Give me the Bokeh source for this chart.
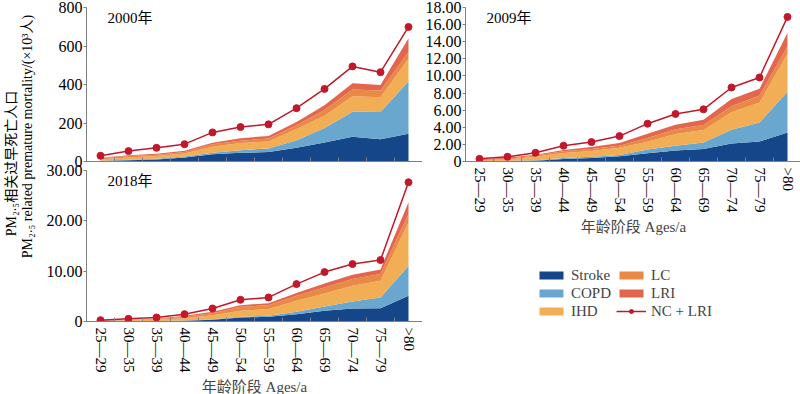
from math import pi
from bokeh.plotting import figure
from bokeh.layouts import row, column
from bokeh.models import (Range1d, FixedTicker, ColumnDataSource, Label, Legend, LegendItem,
                          PrintfTickFormatter)
from bokeh.embed import file_html
from bokeh.resources import INLINE

ages = ["25—29", "30—35", "35—39", "40—44", "45—49", "50—54", "55—59",
        "60—64", "65—69", "70—74", "75—79", ">80"]
causes = ["Stroke", "COPD", "IHD", "LC", "LRI"]

# 2000 (x10^3)
stroke_2000 = [3, 7, 10, 21, 38, 45, 49, 71, 99, 129, 115, 144]
copd_2000 = [0.5, 2, 4, 5, 7, 14, 19, 40, 75, 130, 142, 273]
ihd_2000 = [8.5, 12, 14, 16, 32, 37, 36, 58, 64, 80, 77, 117]
lc_2000 = [5, 7, 7, 8, 13, 12, 16, 19, 30, 35, 35, 35]
lri_2000 = [3, 4, 5, 6, 8, 13, 13, 17, 24, 33, 29, 71]
nclri_2000 = [30, 54, 71, 90, 151, 179, 193, 277, 377, 494, 464, 699]

# 2009
stroke_2009 = [0.02, 0.04, 0.1, 0.3, 0.42, 0.6, 0.95, 1.3, 1.45, 2.1, 2.33, 3.4]
copd_2009 = [0.02, 0.04, 0.05, 0.1, 0.13, 0.15, 0.45, 0.54, 0.78, 1.6, 2.22, 4.75]
ihd_2009 = [0.08, 0.14, 0.4, 0.6, 0.67, 0.85, 0.9, 1.36, 1.45, 2.05, 2.35, 4.45]
lc_2009 = [0.06, 0.1, 0.15, 0.2, 0.23, 0.25, 0.45, 0.56, 0.58, 0.71, 0.8, 0.86]
lri_2009 = [0.08, 0.13, 0.1, 0.15, 0.25, 0.3, 0.5, 0.54, 0.63, 0.84, 0.8, 1.6]
nclri_2009 = [0.31, 0.55, 1.02, 1.84, 2.27, 2.97, 4.42, 5.56, 6.10, 8.65, 9.82, 16.9]

# 2018
stroke_2018 = [0.02, 0.03, 0.05, 0.13, 0.33, 0.8, 0.93, 1.46, 2.12, 2.59, 2.65, 5.11]
copd_2018 = [0.02, 0.04, 0.05, 0.07, 0.13, 0.13, 0.2, 0.46, 0.87, 1.39, 2.13, 5.97]
ihd_2018 = [0.05, 0.13, 0.23, 0.46, 0.8, 1.19, 1.33, 2.19, 2.58, 3.12, 3.32, 8.62]
lc_2018 = [0.02, 0.04, 0.12, 0.27, 0.4, 0.8, 0.79, 1.0, 1.2, 1.33, 1.32, 1.67]
lri_2018 = [0.03, 0.04, 0.1, 0.2, 0.26, 0.33, 0.4, 0.53, 0.79, 0.86, 0.93, 2.33]
nclri_2018 = [0.27, 0.53, 0.8, 1.46, 2.59, 4.31, 4.78, 7.43, 9.82, 11.41, 12.21, 27.67]

y_ticks_2000 = [0, 200, 400, 600, 800]
y_ticks_2009 = [0, 2, 4, 6, 8, 10, 12, 14, 16, 18]
y_ticks_2018 = [0, 10, 20, 30]

colors = ["#15468a", "#6aa7ce", "#f2ae55", "#e98946", "#e3664e"]
line_color = "#c2182b"
SERIF = "'Liberation Serif', 'Noto Sans CJK SC'"
AXIS_COLOR = "#808080"

xs = list(range(len(ages)))


def add_series(p, data, nclri):
    src = ColumnDataSource(dict(x=xs, nclri=nclri, **{c: v for c, v in zip(causes, data)}))
    areas = p.varea_stack(stackers=causes, x="x", color=colors, source=src)
    ln = p.line("x", "nclri", source=src, color=line_color, line_width=1.5)
    sc = p.scatter("x", "nclri", source=src, size=7, color=line_color)
    return areas, ln, sc


def make_panel(year, data, nclri, ymax, yticks, fmt, show_labels, fw, fh, mb):
    p = figure(output_backend="svg", toolbar_location=None,
               frame_width=fw, frame_height=fh,
               x_range=Range1d(-0.5, len(ages) - 0.5), y_range=Range1d(0, ymax),
               min_border_left=mb[0], min_border_right=mb[1],
               min_border_top=mb[2], min_border_bottom=mb[3])
    p.outline_line_color = None
    p.grid.visible = False
    add_series(p, data, nclri)

    xa = p.xaxis[0]
    bounds = [i - 0.5 for i in range(len(ages) + 1)]
    xa.major_tick_in = 0
    xa.major_tick_out = 0
    xa.minor_tick_in = 4
    xa.minor_tick_out = 0
    xa.axis_line_color = AXIS_COLOR
    xa.minor_tick_line_color = AXIS_COLOR
    xa.major_label_orientation = "vertical"
    xa.major_label_text_font = SERIF
    xa.major_label_text_color = "black"
    if show_labels:
        xa.ticker = FixedTicker(ticks=xs, minor_ticks=bounds)
        xa.major_label_overrides = {i: a for i, a in enumerate(ages)}
        xa.major_label_text_font_size = "15px"
        xa.major_label_standoff = 6
        xa.axis_label = "年龄阶段 Ages/a"
        xa.axis_label_text_font = SERIF
        xa.axis_label_text_font_size = "15px"
        xa.axis_label_text_font_style = "normal"
        xa.axis_label_standoff = 3
    else:
        xa.ticker = FixedTicker(ticks=[], minor_ticks=bounds)
        xa.major_label_standoff = 0

    ya = p.yaxis[0]
    ya.ticker = FixedTicker(ticks=yticks, minor_ticks=[])
    ya.formatter = PrintfTickFormatter(format=fmt)
    ya.major_label_overrides = {0: "0"}
    ya.major_tick_in = 0
    ya.major_tick_out = 3
    ya.axis_line_color = AXIS_COLOR
    ya.major_tick_line_color = AXIS_COLOR
    ya.major_label_text_font = SERIF
    ya.major_label_text_font_size = "16px"
    ya.major_label_text_color = "black"
    ya.major_label_standoff = 1

    p.add_layout(Label(x=21, y=fh - 10, x_units="screen", y_units="screen",
                       text=year, text_font=SERIF, text_font_size="15px",
                       text_baseline="middle", text_color="black"))
    return p


p1 = make_panel("2000年", [stroke_2000, copd_2000, ihd_2000, lc_2000, lri_2000],
                nclri_2000, 800, y_ticks_2000, "%d", False, 336, 154, (46, 0, 7, 12))
p2 = make_panel("2009年", [stroke_2009, copd_2009, ihd_2009, lc_2009, lri_2009],
                nclri_2009, 18, y_ticks_2009, "%.2f", True, 336, 154, (41, 1, 7, 80))
p3 = make_panel("2018年", [stroke_2018, copd_2018, ihd_2018, lc_2018, lri_2018],
                nclri_2018, 30, y_ticks_2018, "%.2f", True, 336, 151, (46, 0, 13, 73))
# let the 2018 panel overlap the bottom border of the 2000 panel (transparent canvas)
p3.background_fill_alpha = 0
p3.border_fill_alpha = 0
p3.margin = (-16, 0, 0, 0)

# y-axis title figure (no axes at all)
ylab = figure(output_backend="svg", toolbar_location=None, width=40, height=394,
              min_border=0, x_axis_location=None, y_axis_location=None,
              x_range=Range1d(0, 40), y_range=Range1d(0, 394))
ylab.grid.visible = False
ylab.outline_line_color = None
ylab.add_layout(Label(x=11, y=394 - 163, x_units="screen", y_units="screen",
                      text="PM₂.₅相关过早死亡人口", angle=pi / 2, text_align="center",
                      text_baseline="middle", text_font=SERIF, text_font_size="14px",
                      text_color="black"))
ylab.add_layout(Label(x=27, y=394 - 136, x_units="screen", y_units="screen",
                      text="PM₂.₅ related premature mortality/(×10³人)", angle=pi / 2,
                      text_align="center", text_baseline="middle", text_font=SERIF,
                      text_font_size="14px", text_color="black"))

# legend figure: series drawn outside its visible range, only the legend shows
leg = figure(output_backend="svg", toolbar_location=None, width=378, height=153,
             min_border=0, x_axis_location=None, y_axis_location=None,
             x_range=Range1d(100, 101), y_range=Range1d(100, 101))
leg.grid.visible = False
leg.outline_line_color = None
areas_l, ln_l, sc_l = add_series(leg, [stroke_2009, copd_2009, ihd_2009, lc_2009, lri_2009],
                                 nclri_2009)
items = [LegendItem(label=c, renderers=[r]) for c, r in zip(causes, areas_l)]
items.append(LegendItem(label="NC + LRI", renderers=[ln_l, sc_l]))
legend = Legend(items=items, location=(71, 74), nrows=3,
                glyph_width=30, glyph_height=10, label_standoff=5, spacing=0,
                padding=0, margin=0, border_line_alpha=0, background_fill_alpha=0,
                label_text_font=SERIF, label_text_font_size="15px", label_height=18,
                label_width=45)
leg.add_layout(legend)

root = row(ylab, column(p1, p3), column(p2, leg))

html = file_html(root, INLINE, title="chart")
open("out.html", "w").write(html)
